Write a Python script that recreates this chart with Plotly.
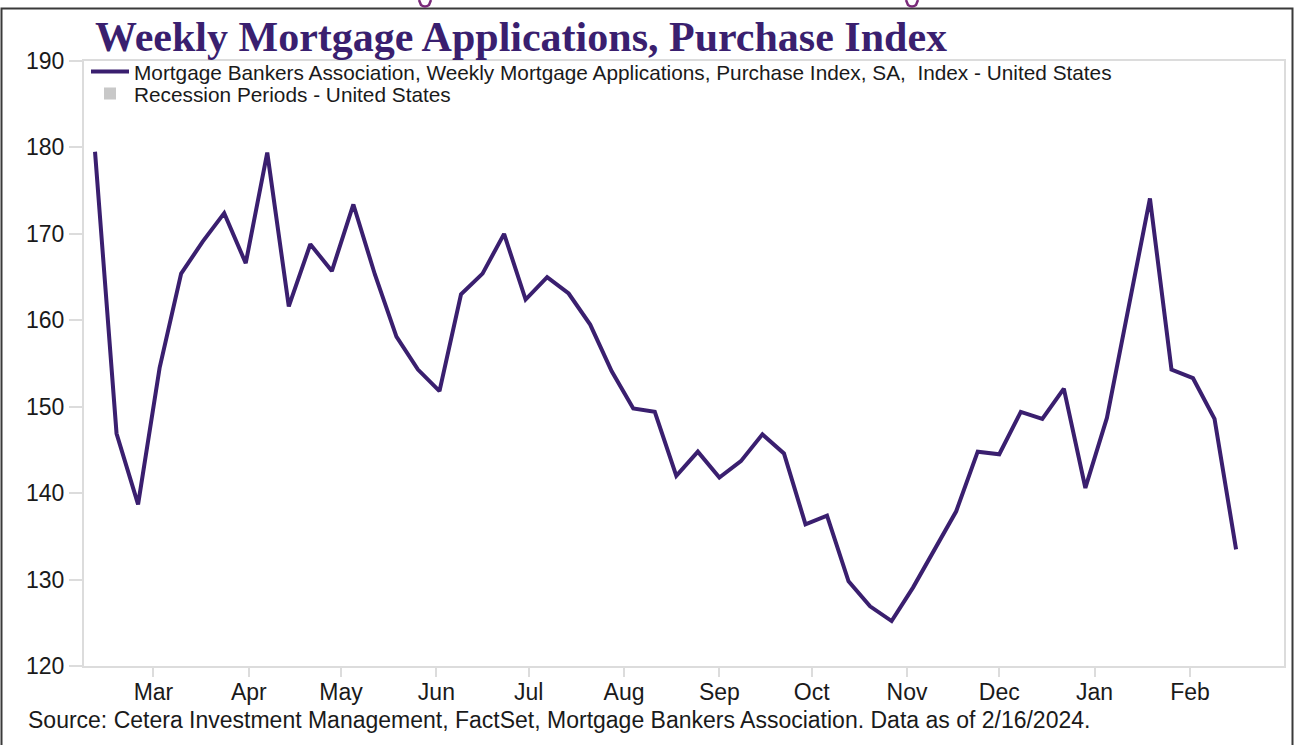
import plotly.graph_objects as go

# ---- data ----
week_dates = [
    "2023-02-10", "2023-02-17", "2023-02-24",
    "2023-03-03", "2023-03-10", "2023-03-17", "2023-03-24", "2023-03-31",
    "2023-04-07", "2023-04-14", "2023-04-21", "2023-04-28",
    "2023-05-05", "2023-05-12", "2023-05-19", "2023-05-26",
    "2023-06-02", "2023-06-09", "2023-06-16", "2023-06-23", "2023-06-30",
    "2023-07-07", "2023-07-14", "2023-07-21", "2023-07-28",
    "2023-08-04", "2023-08-11", "2023-08-18", "2023-08-25",
    "2023-09-01", "2023-09-08", "2023-09-15", "2023-09-22", "2023-09-29",
    "2023-10-06", "2023-10-13", "2023-10-20", "2023-10-27",
    "2023-11-03", "2023-11-10", "2023-11-17", "2023-11-24",
    "2023-12-01", "2023-12-08", "2023-12-15", "2023-12-22", "2023-12-29",
    "2024-01-05", "2024-01-12", "2024-01-19", "2024-01-26",
    "2024-02-02", "2024-02-09", "2024-02-16",
]
purchase_index = [
    179.5, 146.9, 138.7,
    154.5, 165.4, 169.1, 172.4, 166.6,
    179.4, 161.6, 168.8, 165.7,
    173.4, 165.3, 158.1, 154.3,
    151.8, 163.0, 165.4, 170.0, 162.4,
    165.0, 163.1, 159.5, 154.1,
    149.8, 149.4, 142.0, 144.8,
    141.8, 143.7, 146.8, 144.6, 136.4,
    137.4, 129.8, 126.9, 125.2,
    129.1, 133.5, 137.9, 144.8,
    144.5, 149.4, 148.6, 152.1, 140.6,
    148.7, 161.5, 174.1, 154.3,
    153.3, 148.6, 133.5,
]
month_ticks = [
    "2023-03-01", "2023-04-01", "2023-05-01", "2023-06-01", "2023-07-01",
    "2023-08-01", "2023-09-01", "2023-10-01", "2023-11-01", "2023-12-01",
    "2024-01-01", "2024-02-01",
]
month_labels = ["Mar", "Apr", "May", "Jun", "Jul", "Aug", "Sep", "Oct",
                "Nov", "Dec", "Jan", "Feb"]
y_ticks = [120, 130, 140, 150, 160, 170, 180, 190]

series_name = ("Mortgage Bankers Association, Weekly Mortgage Applications, "
               "Purchase Index, SA,  Index - United States")
recession_name = "Recession Periods - United States"
title_text = "Weekly Mortgage Applications, Purchase Index"
source_text = ("Source: Cetera Investment Management, FactSet, Mortgage Bankers "
               "Association. Data as of 2/16/2024.")

PURPLE = "#3a1f6f"
AXIS_GRAY = "#dcdcdc"
TEXT = "#1a1a1a"

W, H = 1294, 745
L, R, T, B = 84, 10, 61, 79
PW, PH = W - L - R, H - T - B


def px_x(x):
    return (x - L) / PW


def px_y(y):
    return 1 - (y - T) / PH


fig = go.Figure()
fig.add_trace(go.Scatter(
    x=week_dates, y=purchase_index, mode="lines", name=series_name,
    line=dict(color=PURPLE, width=4), legend="legend",
))
fig.add_trace(go.Bar(
    x=[None], y=[None], name=recession_name,
    marker=dict(color="#c8c8c8", line=dict(width=0)), legend="legend2",
))

legend_common = dict(
    xanchor="left", yanchor="middle",
    bgcolor="rgba(0,0,0,0)", borderwidth=0,
    font=dict(family="Liberation Sans, Arial, sans-serif", size=20.8, color=TEXT),
    itemwidth=38,
)

fig.update_layout(
    width=W, height=H,
    margin=dict(l=L, r=R, t=T, b=B, autoexpand=False),
    paper_bgcolor="white", plot_bgcolor="white",
    font=dict(family="Liberation Sans, Arial, sans-serif", size=23, color=TEXT),
    showlegend=True,
    legend=dict(x=px_x(86), y=px_y(72), **legend_common),
    legend2=dict(x=px_x(86), y=px_y(94), **legend_common),
    xaxis=dict(
        type="date",
        range=["2023-02-06 10:00", "2024-03-02 14:00"],
        tickvals=month_ticks, ticktext=month_labels,
        ticks="outside", ticklen=9, tickcolor=AXIS_GRAY, tickwidth=1.5,
        ticklabelstandoff=-5,
        showline=True, linecolor=AXIS_GRAY, linewidth=2, mirror=True,
        showgrid=False, zeroline=False, automargin=False,
        tickfont=dict(size=23, color=TEXT),
    ),
    yaxis=dict(
        range=[120, 190], tickvals=y_ticks,
        ticks="outside", ticklen=13, tickcolor=AXIS_GRAY, tickwidth=1.5,
        ticklabelstandoff=0,
        showline=True, linecolor=AXIS_GRAY, linewidth=2, mirror=True,
        showgrid=False, zeroline=False, automargin=False,
        tickfont=dict(size=23, color=TEXT),
    ),
)

fig.add_annotation(
    text="<b>" + title_text + "</b>", xref="paper", yref="paper",
    x=px_x(93), y=px_y(37), xanchor="left", yanchor="middle",
    showarrow=False,
    font=dict(family="Liberation Serif, Times New Roman, serif", size=42, color=PURPLE),
)
fig.add_annotation(
    text=source_text, xref="paper", yref="paper",
    x=px_x(26), y=px_y(720), xanchor="left", yanchor="middle", showarrow=False,
    font=dict(size=23, color=TEXT),
)

# outer frame of the exhibit
fig.add_shape(
    type="rect", xref="paper", yref="paper",
    x0=px_x(1.5), x1=px_x(1292.5), y0=px_y(760), y1=px_y(8.5),
    line=dict(color="#3a3a3a", width=2), fillcolor="rgba(0,0,0,0)", layer="above",
)
# cut-off purple glyph fragments at very top of the exhibit
for cx in (425, 912):
    fig.add_shape(
        type="path", xref="paper", yref="paper",
        path=(f"M {px_x(cx - 6)} {px_y(0)} L {px_x(cx - 4)} {px_y(5)} "
              f"Q {px_x(cx)} {px_y(8)} {px_x(cx + 4)} {px_y(5)} L {px_x(cx + 6)} {px_y(0)}"),
        line=dict(color="#7a2a7a", width=2.5),
    )

fig.write_html(
    "out.html",
    config={"displayModeBar": False},
    post_script="document.body.style.margin='0px';",
)
